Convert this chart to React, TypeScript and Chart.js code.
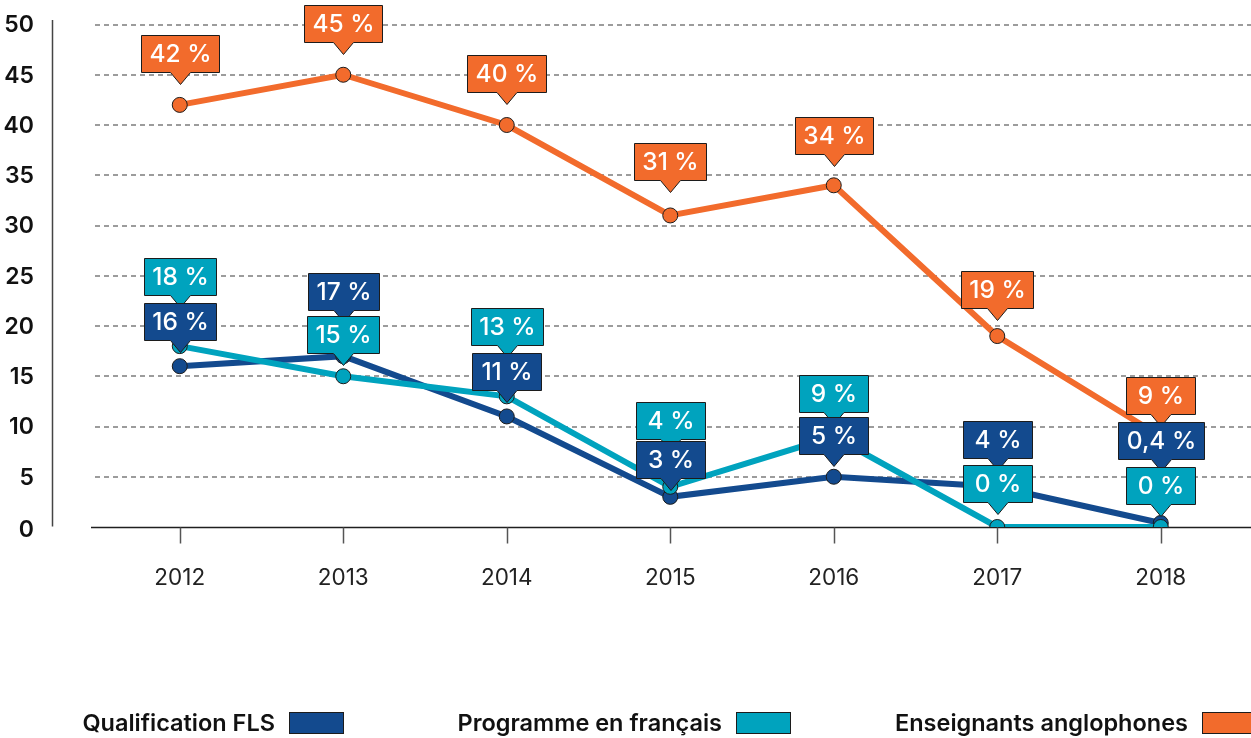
import React, { useEffect, useRef } from "react";
import { Chart, registerables } from "chart.js";

Chart.register(...registerables);

// ---------- data ----------
const years = ["2012", "2013", "2014", "2015", "2016", "2017", "2018"];

const qualificationFLS = [16, 17, 11, 3, 5, 4, 0.4];
const programmeFrancais = [18, 15, 13, 4, 9, 0, 0];
const enseignantsAnglophones = [42, 45, 40, 31, 34, 19, 9];

const qualificationLabels = ["16 %", "17 %", "11 %", "3 %", "5 %", "4 %", "0,4 %"];
const programmeLabels = ["18 %", "15 %", "13 %", "4 %", "9 %", "0 %", "0 %"];
const anglophonesLabels = ["42 %", "45 %", "40 %", "31 %", "34 %", "19 %", "9 %"];

const yTickValues = [0, 5, 10, 15, 20, 25, 30, 35, 40, 45, 50];

const legendNames = ["Qualification FLS", "Programme en français", "Enseignants anglophones"];

// ---------- layout / style ----------
// callout pointer tip distance above its own point (px)
const qualificationTipOffsets = [14, 34, 14.5, 7, 11, 17, 52];
const programmeTipOffsets = [39, 11, 39, 36, 12.6, 13, 11];
const anglophonesTipOffsets = [21, 21, 21, 23, 19, 16, 11];

const legendTextRight = [275, 722, 1188];

const NAVY = "#134a8e";
const TEAL = "#00a3be";
const ORANGE = "#f26b2c";
const FONT = "Inter, 'Noto Sans', sans-serif";

const W = 1251;
const H = 738;

function drawCallout(ctx: CanvasRenderingContext2D, x: number, tipY: number, text: string, color: string) {
  const BH = 37;
  const P = 12;
  const HW = 10;
  ctx.save();
  ctx.font = `500 24.5px ${FONT}`;
  const tw = ctx.measureText(text).width;
  const BW = Math.max(69, tw + 16);
  const bottom = Math.round(tipY - P) + 0.5;
  const top = bottom - BH;
  const left = Math.round(x - BW / 2) + 0.5;
  const right = left + Math.round(BW);
  const cx = left + Math.round(BW) / 2;
  ctx.beginPath();
  ctx.moveTo(left, top);
  ctx.lineTo(right, top);
  ctx.lineTo(right, bottom);
  ctx.lineTo(cx + HW, bottom);
  ctx.lineTo(cx, bottom + P);
  ctx.lineTo(cx - HW, bottom);
  ctx.lineTo(left, bottom);
  ctx.closePath();
  ctx.fillStyle = color;
  ctx.fill();
  ctx.lineWidth = 1;
  ctx.strokeStyle = "#1c1c1c";
  ctx.stroke();
  ctx.fillStyle = "#ffffff";
  ctx.textAlign = "center";
  ctx.textBaseline = "middle";
  ctx.fillText(text, cx, (top + bottom) / 2 + 1);
  ctx.restore();
}

const series = [
  { name: legendNames[0], data: qualificationFLS, labels: qualificationLabels, offsets: qualificationTipOffsets, color: NAVY, order: 2 },
  { name: legendNames[1], data: programmeFrancais, labels: programmeLabels, offsets: programmeTipOffsets, color: TEAL, order: 0 },
  { name: legendNames[2], data: enseignantsAnglophones, labels: anglophonesLabels, offsets: anglophonesTipOffsets, color: ORANGE, order: 1 },
];

const decorPlugin = {
  id: "decor",
  beforeDatasetsDraw(chart: any) {
    const { ctx, scales } = chart;
    const y = scales.y;
    const x = scales.x;
    ctx.save();
    // dashed grid
    ctx.setLineDash([5, 4]);
    ctx.strokeStyle = "#9c9c9c";
    ctx.lineWidth = 2;
    yTickValues.forEach((v) => {
      if (v === 0) return;
      const py = Math.round(y.getPixelForValue(v));
      ctx.beginPath();
      ctx.moveTo(95, py);
      ctx.lineTo(W, py);
      ctx.stroke();
    });
    ctx.setLineDash([]);
    // x axis line
    const by = Math.round(y.getPixelForValue(0)) + 0.5;
    ctx.strokeStyle = "#1f1f1f";
    ctx.lineWidth = 1.5;
    ctx.beginPath();
    ctx.moveTo(91, by);
    ctx.lineTo(W, by);
    ctx.stroke();
    // ticks on x axis
    ctx.strokeStyle = "#555555";
    ctx.lineWidth = 1.5;
    years.forEach((_, i) => {
      const px = Math.round(x.getPixelForValue(i)) + 0.5;
      ctx.beginPath();
      ctx.moveTo(px, by);
      ctx.lineTo(px, by + 16);
      ctx.stroke();
    });
    // y axis line
    ctx.strokeStyle = "#444444";
    ctx.lineWidth = 1.5;
    ctx.beginPath();
    ctx.moveTo(52.5, 20);
    ctx.lineTo(52.5, by - 1);
    ctx.stroke();
    // y tick labels
    ctx.font = `600 23px ${FONT}`;
    ctx.fillStyle = "#111111";
    ctx.textAlign = "right";
    ctx.textBaseline = "middle";
    yTickValues.forEach((v) => {
      const py = y.getPixelForValue(v);
      ctx.fillText(String(v), 34, py + (v === 0 ? 3 : 1));
    });
    ctx.restore();
  },
  afterDatasetsDraw(chart: any) {
    const { ctx, scales } = chart;
    const items: { x: number; tip: number; text: string; color: string }[] = [];
    series.forEach((s) => {
      s.data.forEach((v, i) => {
        const px = scales.x.getPixelForValue(i);
        const py = scales.y.getPixelForValue(v);
        items.push({ x: px, tip: py - s.offsets[i], text: s.labels[i], color: s.color });
      });
    });
    items.sort((a, b) => a.tip - b.tip);
    items.forEach((it) => drawCallout(ctx, it.x, it.tip, it.text, it.color));
  },
  afterDraw(chart: any) {
    const { ctx } = chart;
    ctx.save();
    ctx.font = `600 23.5px ${FONT}`;
    ctx.textAlign = "right";
    ctx.textBaseline = "alphabetic";
    series.forEach((s, i) => {
      const tr = legendTextRight[i];
      ctx.fillStyle = "#111111";
      ctx.fillText(s.name, tr, 731);
      ctx.fillStyle = s.color;
      ctx.fillRect(tr + 14, 712, 54, 21);
      ctx.strokeStyle = "#1c1c1c";
      ctx.lineWidth = 1;
      ctx.strokeRect(tr + 14.5, 712.5, 54, 21);
    });
    ctx.restore();
  },
};

export default function App() {
  const ref = useRef<HTMLCanvasElement | null>(null);

  useEffect(() => {
    if (!ref.current) return;
    const chart = new Chart(ref.current, {
      type: "line",
      data: {
        labels: years,
        datasets: series.map((s) => ({
          label: s.name,
          data: s.data,
          borderColor: s.color,
          backgroundColor: s.color,
          borderWidth: 6,
          pointRadius: 7.5,
          pointBackgroundColor: s.color,
          pointBorderColor: "#1c1c1c",
          pointBorderWidth: 1,
          tension: 0,
          order: s.order,
        })),
      },
      options: {
        responsive: false,
        animation: false,
        events: [],
        layout: { padding: { top: 24.5, right: 6, left: 0, bottom: 0 } },
        plugins: {
          legend: { display: false },
          tooltip: { enabled: false },
        },
        scales: {
          x: {
            type: "category",
            offset: true,
            grid: { display: false, drawTicks: false },
            border: { display: false },
            ticks: {
              color: "#222222",
              font: { family: FONT, size: 22.5, weight: "400" },
              padding: 38,
            },
            afterFit: (s: any) => {
              s.height = 211;
            },
          },
          y: {
            min: 0,
            max: 50,
            grid: { display: false, drawTicks: false },
            border: { display: false },
            ticks: {
              display: false,
              stepSize: 5,
              padding: 0,
            },
            afterFit: (s: any) => {
              s.width = 98;
            },
          },
        },
      },
      plugins: [decorPlugin],
    });
    return () => chart.destroy();
  }, []);

  return (
    <div style={{ position: "fixed", left: 0, top: 0, width: W, height: H, background: "#fff" }}>
      <canvas ref={ref} width={W} height={H} style={{ width: W, height: H, display: "block" }} />
    </div>
  );
}
